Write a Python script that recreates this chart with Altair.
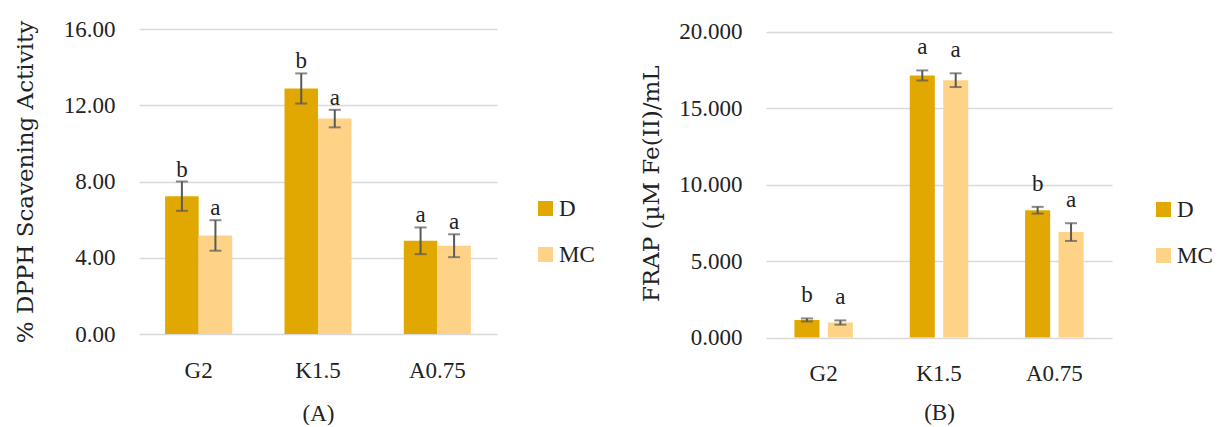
import altair as alt
import pandas as pd

categories = ["G2", "K1.5", "A0.75"]
series = ["D", "MC"]

# Panel A: % DPPH scavenging activity
a_d = [7.23, 12.88, 4.89]
a_d_err = [0.77, 0.79, 0.70]
a_mc = [5.17, 11.30, 4.63]
a_mc_err = [0.80, 0.46, 0.60]
a_d_letters = ["b", "b", "a"]
a_mc_letters = ["a", "a", "a"]

# Panel B: FRAP
b_d = [1.15, 17.15, 8.33]
b_d_err = [0.10, 0.33, 0.22]
b_mc = [0.98, 16.84, 6.90]
b_mc_err = [0.14, 0.45, 0.58]
b_d_letters = ["b", "a", "b"]
b_mc_letters = ["a", "a", "a"]

a_ticks = [0, 4, 8, 12, 16]
b_ticks = [0, 5, 10, 15, 20]

COL_D = "#E0A800"
COL_MC = "#FFD387"
ERR = "#595959"
TXT = "#222222"
SERIF = "Liberation Serif"
TITLEF = "DejaVu Serif"
FS = 23


def make_df(d, de, mc, mce, dl, mcl):
    rows = []
    for i, c in enumerate(categories):
        rows.append(dict(cat=c, series="D", value=d[i], lo=d[i] - de[i], hi=d[i] + de[i], letter=dl[i]))
        rows.append(dict(cat=c, series="MC", value=mc[i], lo=mc[i] - mce[i], hi=mc[i] + mce[i], letter=mcl[i]))
    return pd.DataFrame(rows)


def panel(df, ytitle, yfmt, ydomain, yticks, width, height, xpi, offpi, caption, cappad, dy, titlepad, legx, legy):
    x = alt.X("cat:N", sort=categories,
              scale=alt.Scale(paddingInner=xpi, paddingOuter=xpi / 2),
              axis=alt.Axis(title=caption, labelAngle=0, ticks=False, domain=False,
                            labelPadding=25, labelFont=SERIF, labelFontSize=FS, labelColor=TXT,
                            titleFont=SERIF, titleFontSize=FS, titleFontWeight="normal",
                            titleColor=TXT, titlePadding=cappad))
    xo = alt.XOffset("series:N", sort=series,
                     scale=alt.Scale(paddingInner=offpi, paddingOuter=0))
    base = alt.Chart(df).encode(x=x, xOffset=xo)
    yscale = alt.Scale(domain=ydomain, nice=False, zero=True)
    yaxis = alt.Axis(title=ytitle, values=yticks, format=yfmt, ticks=False, domain=False,
                     grid=True, gridColor="#D9D9D9", gridWidth=1.6,
                     labelPadding=24, labelFont=SERIF, labelFontSize=FS, labelColor=TXT,
                     titleFont=TITLEF, titleFontSize=FS, titleFontWeight="normal",
                     titleColor=TXT, titlePadding=titlepad)
    bars = base.mark_bar().encode(
        y=alt.Y("value:Q", scale=yscale, axis=yaxis),
        color=alt.Color("series:N", sort=series,
                        scale=alt.Scale(domain=series, range=[COL_D, COL_MC]),
                        legend=alt.Legend(title=None, orient="none", legendX=legx, legendY=legy,
                                          symbolType="square", symbolSize=225, symbolStrokeWidth=0,
                                          labelFont=SERIF, labelFontSize=FS, labelColor=TXT,
                                          labelOffset=2, rowPadding=22, padding=0)),
    )
    rule = base.mark_rule(color=ERR, strokeWidth=2).encode(
        y=alt.Y("lo:Q", scale=yscale, axis=yaxis), y2="hi:Q")
    cap_hi = base.mark_tick(color=ERR, thickness=2, size=12).encode(
        y=alt.Y("hi:Q", scale=yscale, axis=yaxis))
    cap_lo = base.mark_tick(color=ERR, thickness=2, size=12).encode(
        y=alt.Y("lo:Q", scale=yscale, axis=yaxis))
    txt = base.mark_text(dy=dy, baseline="alphabetic", font=SERIF, fontSize=FS, color=TXT).encode(
        y=alt.Y("hi:Q", scale=yscale, axis=yaxis), text="letter:N")
    return alt.layer(bars, rule, cap_hi, cap_lo, txt).properties(width=width, height=height)


dfA = make_df(a_d, a_d_err, a_mc, a_mc_err, a_d_letters, a_mc_letters)
dfB = make_df(b_d, b_d_err, b_mc, b_mc_err, b_d_letters, b_mc_letters)

pA = panel(dfA, "% DPPH Scavening Activity", ".2f", [0, 16], a_ticks, 358, 305,
           0.438, 0.0, "(A)", 20, -5, 26, 395, 168)
pB = panel(dfB, "FRAP (µM Fe(II)/mL", ".3f", [0, 20.19], b_ticks, 346, 308.5,
           0.493, 0.25, "(B)", 16, -16, 15, 386, 169)

chart = alt.hconcat(pA, pB, spacing=45).resolve_scale(
    color="independent", y="independent", x="independent", xOffset="independent"
).properties(
    padding={"left": 6, "top": 10, "right": 0, "bottom": 0}
).configure_view(stroke=None)

chart.save("out.html", embed_options={"renderer": "svg", "actions": False})
